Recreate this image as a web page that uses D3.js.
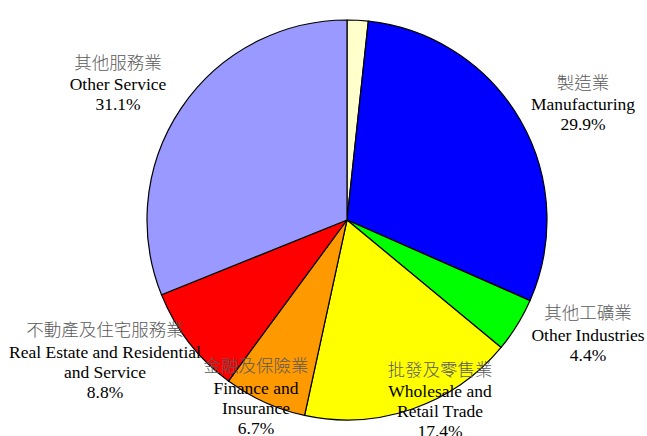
<!DOCTYPE html>
<html><head><meta charset="utf-8">
<script src="https://cdn.jsdelivr.net/npm/d3@7"></script>
<style>body{margin:0;background:#fff}svg{display:block}</style>
</head><body>
<svg id="c" width="647" height="436"></svg>
<script>
const categoriesZh = ["", "製造業", "其他工礦業", "批發及零售業", "金融及保險業", "不動產及住宅服務業", "其他服務業"];
const categoriesEn = [[], ["Manufacturing"], ["Other Industries"], ["Wholesale and", "Retail Trade"], ["Finance and", "Insurance"], ["Real Estate and Residential", "and Service"], ["Other Service"]];
const values = [1.7, 29.9, 4.4, 17.4, 6.7, 8.8, 31.1];
const percentLabels = ["", "29.9%", "4.4%", "17.4%", "6.7%", "8.8%", "31.1%"];
const colors = ["#FFFFCC", "#0000FF", "#00FF00", "#FFFF00", "#FF9900", "#FF0000", "#9999FF"];
// label anchor positions (layout): x center, baseline of first line
const labelLayout = [null, [583, 88.5], [588, 319], [440, 375.5], [256, 372], [105, 336], [118, 68.5]];

const svg = d3.select("#c");
const cx = 347, cy = 220, r = 200;
const data = values.map((v, i) => ({v, i}));
const pie = d3.pie().value(d => d.v).sort(null);
const arc = d3.arc().innerRadius(0).outerRadius(r);
const g = svg.append("g").attr("transform", `translate(${cx},${cy})`);
g.selectAll("path").data(pie(data)).join("path")
  .attr("d", arc)
  .attr("fill", d => colors[d.data.i])
  .attr("stroke", "#000").attr("stroke-width", 1.2)
  .attr("stroke-linejoin", "round");

const gap = 21.5, lh = 20;
labelLayout.forEach((p, i) => {
  if (!p) return;
  const t = svg.append("g");
  t.append("text").attr("x", p[0]).attr("y", p[1]).attr("text-anchor", "middle")
    .attr("font-family", "'Noto Sans CJK TC'").attr("font-size", 17.5).attr("font-weight", 300).attr("fill", "#5a5a5a")
    .text(categoriesZh[i]);
  const lines = categoriesEn[i].concat([percentLabels[i]]);
  lines.forEach((s, k) => {
    t.append("text").attr("x", p[0]).attr("y", p[1] + gap + k * lh).attr("text-anchor", "middle")
      .attr("font-family", "'Liberation Serif', 'Times New Roman', serif").attr("font-size", 17.5).attr("fill", "#000")
      .text(s);
  });
});
</script>
</body></html>
